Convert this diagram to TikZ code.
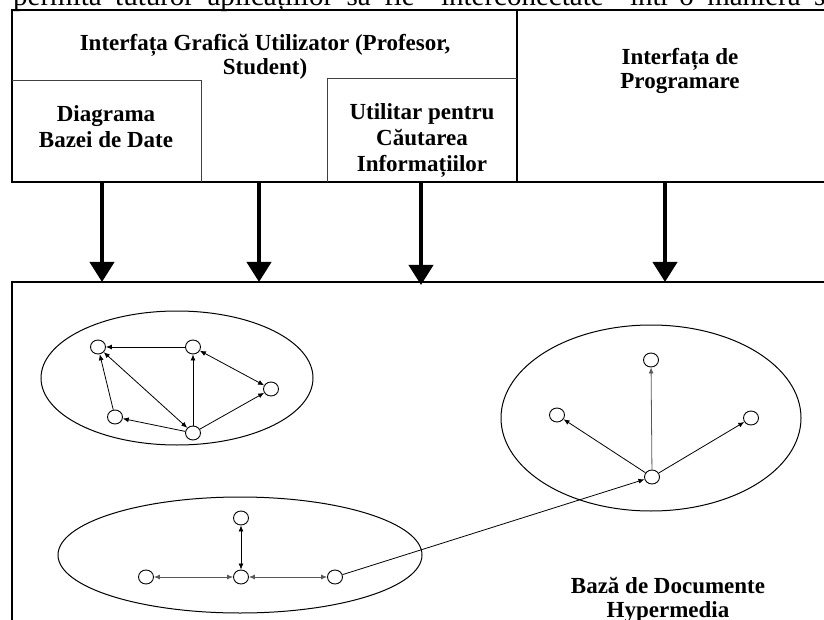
\documentclass[tikz,border=0pt]{standalone}
\usepackage{fontspec}
\setmainfont{Liberation Serif}
\usetikzlibrary{
    arrows.meta,
    shapes.geometric
}
\newcommand{\lblfont}{\bfseries\fontsize{23}{26}\selectfont}
\newcommand{\hdrfont}{\bfseries\fontsize{23}{24}\selectfont}
\newcommand{\pagefont}{\fontsize{29}{32}\selectfont}
\tikzset{
  lbl/.style    = {font=\lblfont, align=center, inner sep=0pt},
  hdr/.style    = {font=\hdrfont, align=center, inner sep=0pt},
  vtx/.style    = {draw, ellipse, minimum width=15pt, minimum height=14pt,
                   inner sep=0pt, line width=0.9pt},
  frm/.style    = {line width=2.2pt},
  subbox/.style = {line width=1pt, black!75},
  grp/.style    = {line width=1pt},
  bigarr/.style = {-{Triangle[width=24pt,length=20pt]}, line width=4pt},
  arr/.style    = {-{Latex[length=6pt,width=5pt]}, line width=0.8pt},
  darr/.style   = {{Latex[length=6pt,width=5pt]}-{Latex[length=6pt,width=5pt]},
                   line width=0.8pt}
}

\begin{document}
\begin{tikzpicture}[x=1pt, y=-1pt]
    \useasboundingbox (0,0) rectangle (824,620);
    \clip (0,0) rectangle (824,620);

    % cut-off line of the page text
    \node[anchor=base west, inner sep=0pt, font=\pagefont] (pagetxt) at (13,6)
      {\makebox[812pt][s]{permită tuturor aplicațiilor să fie "interconectate" într-o manieră s}};

    % upper panel
    \draw[frm] (824,10) -- (12,10) -- (12,182) -- (824,182);
    \draw[frm] (517,10) -- (517,182);
    \draw[subbox] (12,81) -- (201,81) -- (201,182);
    \draw[subbox] (517,79) -- (327,79) -- (327,182);

    \node[hdr] (gui)  at (265,57)  {Interfața Grafică Utilizator (Profesor,\\Student)};
    \node[lbl] (diag) at (106,127) {Diagrama\\Bazei de Date};
    \node[lbl] (util) at (422,140) {Utilitar pentru\\Căutarea\\Informațiilor};
    \node[hdr] (api)  at (680,71)  {Interfața de\\Programare};

    % lower panel
    \draw[frm] (824,282) -- (12,282) -- (12,620);

    % arrows between the panels
    \foreach \i/\x/\y in {1/102/282,2/259/282,3/421/285,4/665/282} {
      \coordinate (up\i) at (\x,182);
      \coordinate (dn\i) at (\x,\y);
      \draw[bigarr] (up\i) -- (dn\i);
    }

    % document groups
    \draw[grp] (177,378) ellipse [x radius=136, y radius=67];
    \draw[grp] (651,418) ellipse [x radius=150, y radius=93];
    \draw[grp] (240,555) ellipse [x radius=182, y radius=58];

    % left group
    \node[vtx] (a1) at (98,347)  {};
    \node[vtx] (a2) at (193,347) {};
    \node[vtx] (a3) at (271,389) {};
    \node[vtx] (a4) at (115,417) {};
    \node[vtx] (a5) at (193,433) {};
    \draw[arr]  (a2) -- (a1);
    \draw[arr]  (a4) -- (a1);
    \draw[darr] (a1) -- (a5);
    \draw[arr]  (a5) -- (a2);
    \draw[darr] (a2) -- (a3);
    \draw[arr]  (a5) -- (a3);
    \draw[arr]  (a5) -- (a4);

    % right group
    \node[vtx] (b0) at (652,477) {};
    \node[vtx] (b1) at (651,360) {};
    \node[vtx] (b2) at (557,415) {};
    \node[vtx] (b3) at (751,418) {};
    \draw[arr, black!65] (b0) -- (b1);
    \draw[arr]  (b0) -- (b2);
    \draw[arr]  (b0) -- (b3);

    % bottom group
    \node[vtx] (c0) at (241,577) {};
    \node[vtx] (c1) at (241,518) {};
    \node[vtx] (c2) at (146,577) {};
    \node[vtx] (c3) at (335,577) {};
    \draw[darr] (c0) -- (c1);
    \draw[darr, black!65] (c0) -- (c2);
    \draw[darr, black!65] (c0) -- (c3);
    \draw[arr]  (c3) -- (b0);

    \node[lbl, font=\bfseries\fontsize{23}{24}\selectfont] (base) at (668,600)
      {Bază de Documente\\Hypermedia};
\end{tikzpicture}
\end{document}
